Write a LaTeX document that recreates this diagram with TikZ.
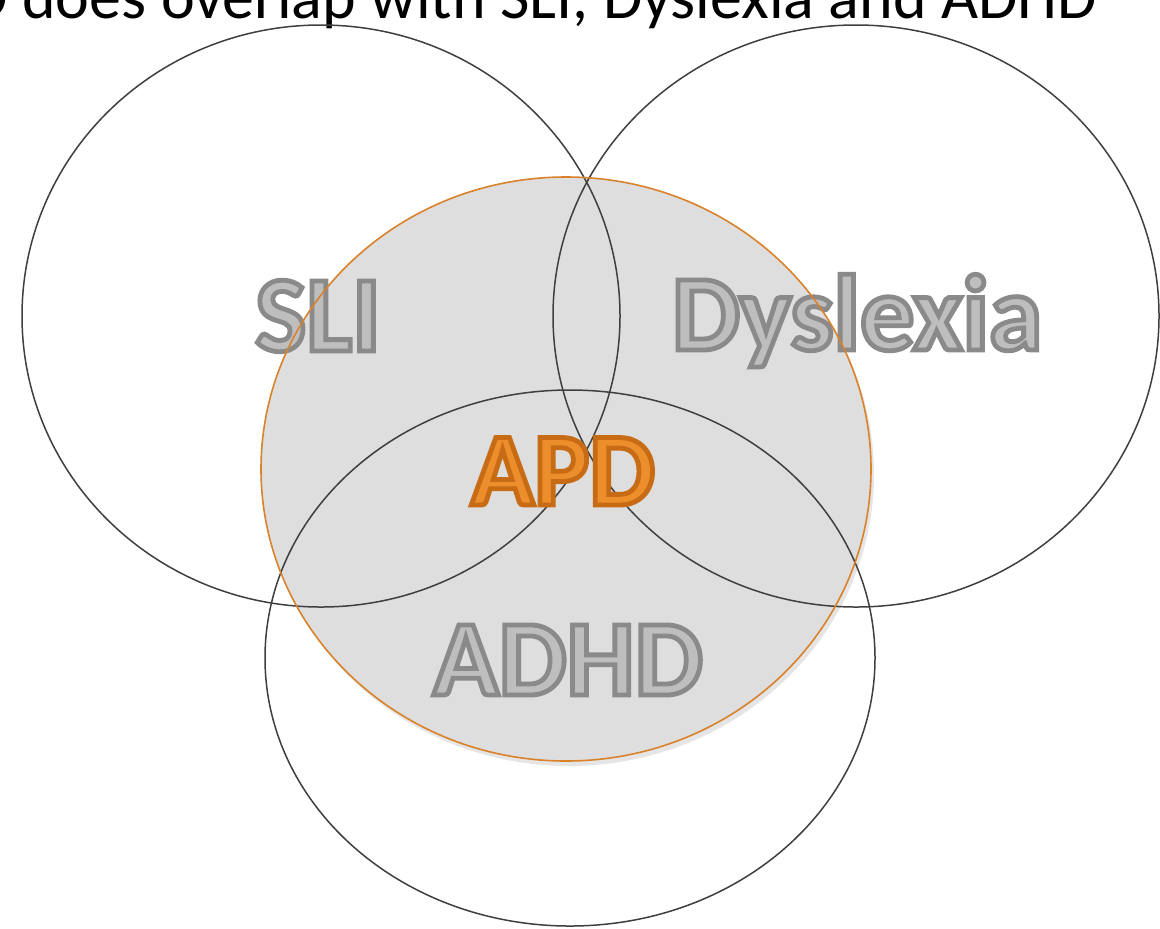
\documentclass[tikz,border=0pt]{standalone}
\usepackage{fontspec}
\setmainfont{Carlito}
\usetikzlibrary{shapes,shadows}

\definecolor{ringgrau}{HTML}{3F3F3F}
\definecolor{fuellgrau}{HTML}{DEDEDE}
\definecolor{apdorange}{HTML}{D9822B}
\definecolor{schrifthell}{HTML}{BEBEBE}
\definecolor{apdhell}{HTML}{EC8E2C}
% outlined letters: stroke colour as PDF operator, then the text
\newcommand{\umriss}[2]{\special{pdf:literal direct #1 2 Tr 2.4 w}#2\special{pdf:literal direct 0 Tr}}

\begin{document}
\begin{tikzpicture}
[x=0.5pt, y=-0.5pt,
 ring/.style={shape=ellipse,draw=ringgrau,line width=0.75pt,inner sep=0pt},
 apdring/.style={shape=ellipse,draw=apdorange,line width=0.8pt,inner sep=0pt},
 disorder/.style={anchor=base,inner sep=0pt,text=schrifthell,
   font=\bfseries\fontsize{54}{54}\selectfont},
 focus/.style={anchor=base,inner sep=0pt,text=apdhell,
   font=\bfseries\fontsize{52}{52}\selectfont}]
\useasboundingbox (0,0) rectangle (1160,928);
\clip (0,0) rectangle (1160,928);
\fill[white] (0,0) rectangle (1160,928);
% title, cut off at the top
\node (titel) at (-102,18) [anchor=base west,inner sep=0pt,
  font=\fontsize{32}{32}\selectfont] {APD does overlap with SLI, Dyslexia and ADHD};
% shaded APD area
\node (apdflaeche) at (566,469) [shape=ellipse,inner sep=0pt,fill=fuellgrau,
  minimum width=305pt,minimum height=292pt,
  drop shadow={opacity=0.2,shadow xshift=1.5pt,shadow yshift=-2.5pt}] {};
% the three rings
\node (sli) at (321,316) [ring,minimum width=299pt,minimum height=291pt] {};
\node (dyslexia) at (856,316) [ring,minimum width=303pt,minimum height=291pt] {};
\node (adhd) at (570,658) [ring,minimum width=305pt,minimum height=268pt] {};
% labels
\node (tsli) at (318,351) [disorder] {\umriss{0.54 G}{SLI}};
\node (tdyslexia) at (857,350) [disorder] {\umriss{0.54 G}{Dyslexia}};
\node (tadhd) at (568,695) [disorder] {\umriss{0.54 G}{ADHD}};
\node (apd) at (566,469) [apdring,minimum width=305pt,minimum height=292pt] {};
\node (tapd) at (563,505) [focus] {\umriss{0.78 0.42 0.08 RG}{APD}};
\end{tikzpicture}
\end{document}
